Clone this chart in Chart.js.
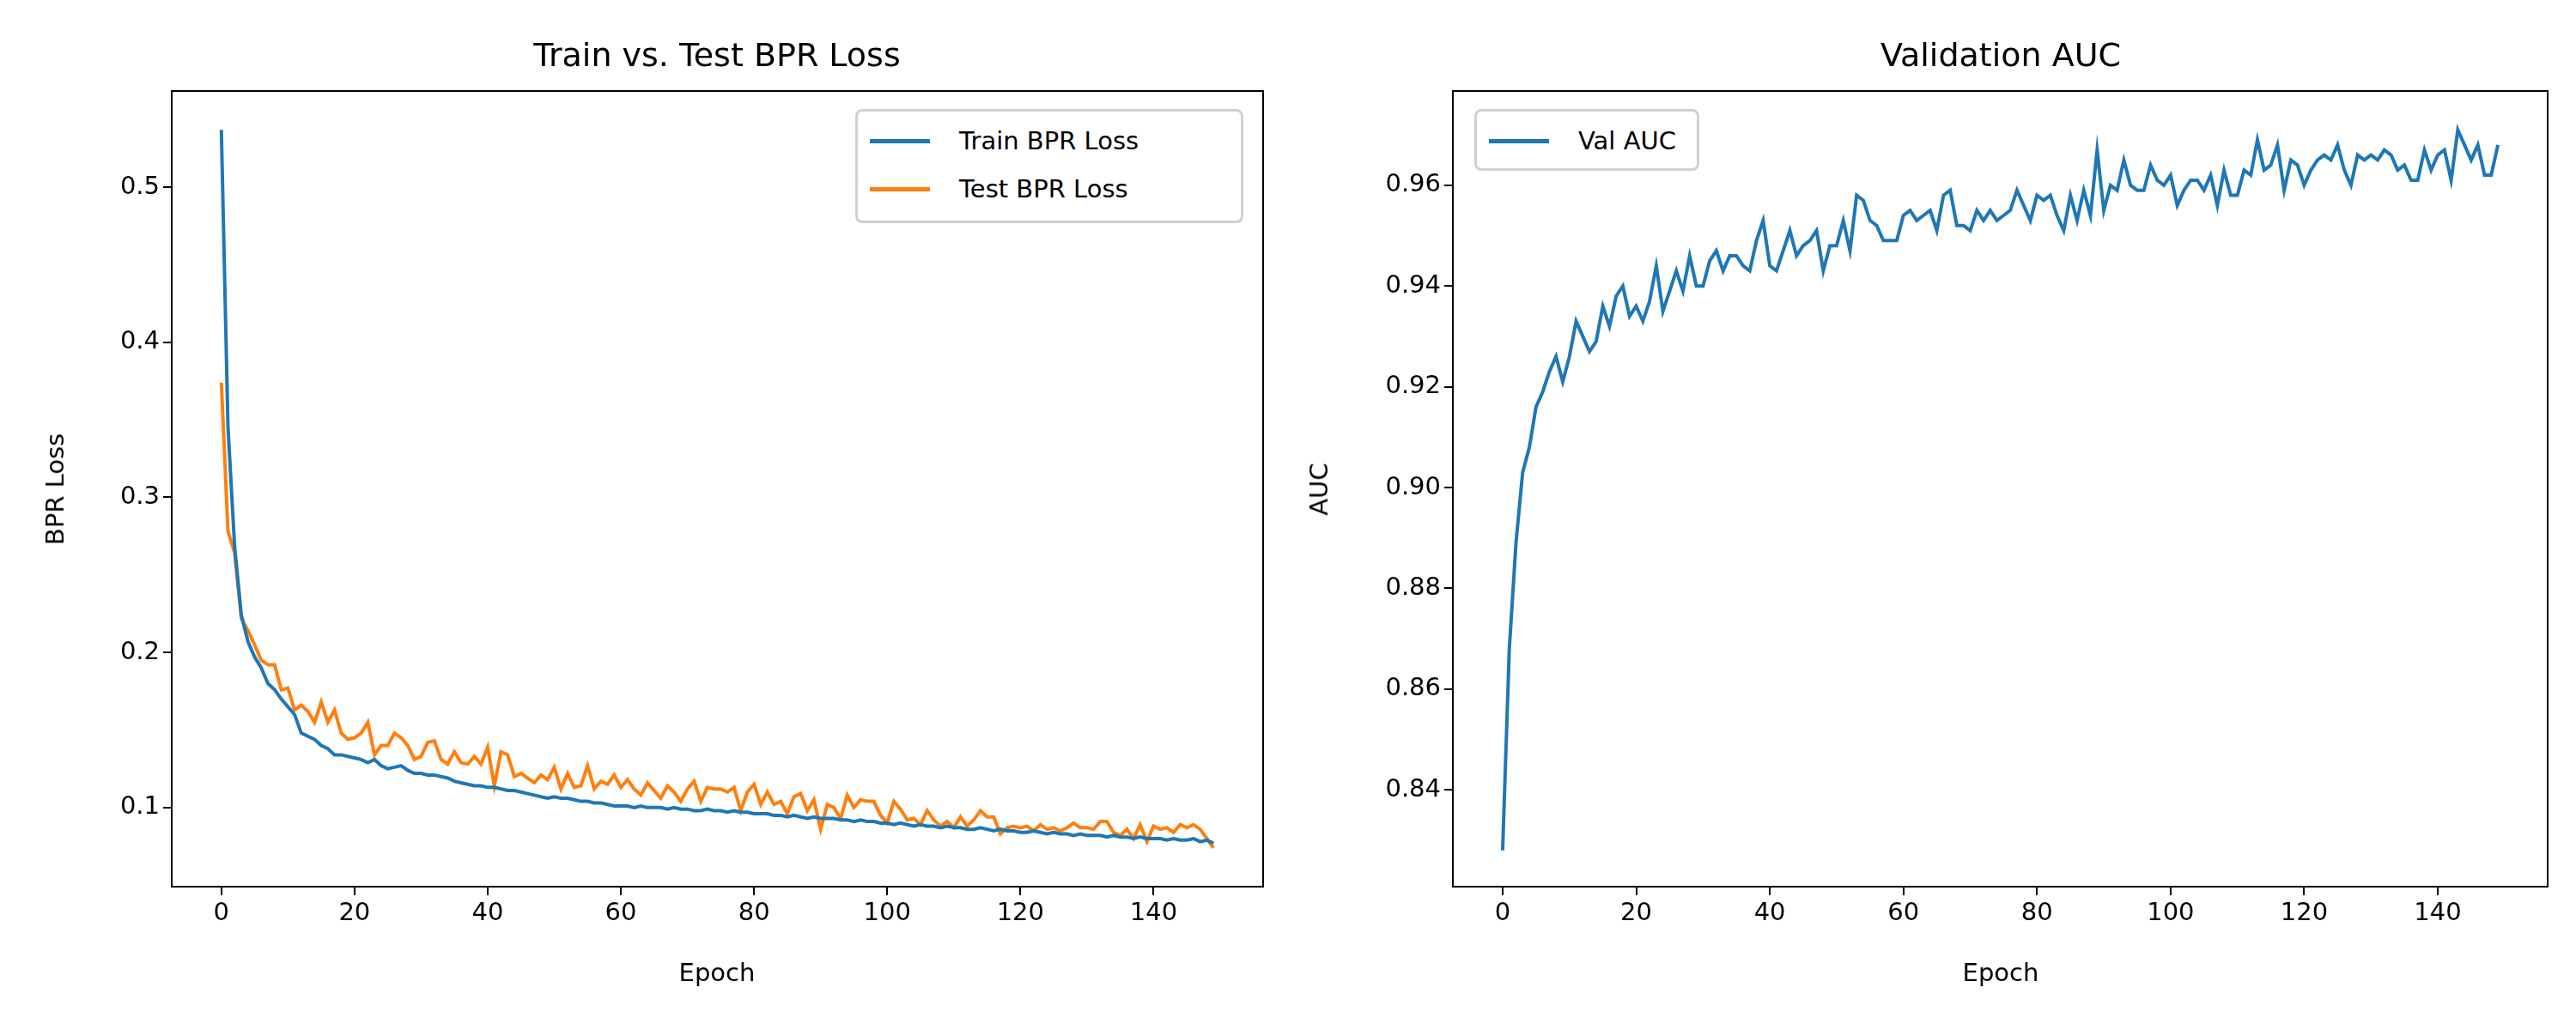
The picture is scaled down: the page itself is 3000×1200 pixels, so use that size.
<!DOCTYPE html>
<html>
<head>
<meta charset="utf-8">
<script src="https://cdn.jsdelivr.net/npm/chart.js@4"></script>
<style>
  body { margin: 0; background: #fff; font-family: "DejaVu Sans", sans-serif; }
  #wrap { position: relative; width: 3000px; height: 1200px; }
  .box { position: absolute; top: 0; height: 1200px; }
  .title { position: absolute; font-size: 38px; color: #000; transform: translate(-50%, -50%); top: 64px; white-space: nowrap; }
  .legend { position: absolute; background: #fff; border: 3px solid #d0d0d0; border-radius: 8px; padding: 6px 14px; font-size: 29px; box-sizing: border-box; }
  .legend div { display: flex; align-items: center; height: 56px; }
  .legend span.sw { display: inline-block; width: 70px; height: 5px; margin-right: 34px; }
  .lbl { position: absolute; font-size: 29px; color: #000; white-space: nowrap; }
</style>
</head>
<body>
<div id="wrap">
  <div class="box" style="left:0;width:1490px"><canvas id="loss"></canvas></div>
  <div class="box" style="left:1500px;width:1500px"><canvas id="auc"></canvas></div>
  <div class="title" style="left:835px">Train vs. Test BPR Loss</div>
  <div class="title" style="left:2330px">Validation AUC</div>
  <div class="legend" style="left:996px;top:127px;width:452px;height:133px">
    <div><span class="sw" style="background:#1f77b4"></span>Train BPR Loss</div>
    <div><span class="sw" style="background:#ff7f0e"></span>Test BPR Loss</div>
  </div>
  <div class="legend" style="left:1717px;top:127px;width:262px;height:72px">
    <div><span class="sw" style="background:#1f77b4"></span>Val AUC</div>
  </div>
  <div class="lbl" style="left:835px;top:1133px;transform:translate(-50%,-50%)">Epoch</div>
  <div class="lbl" style="left:2330px;top:1133px;transform:translate(-50%,-50%)">Epoch</div>
  <div class="lbl" style="left:64px;top:570px;transform:translate(-50%,-50%) rotate(-90deg)">BPR Loss</div>
  <div class="lbl" style="left:1536px;top:570px;transform:translate(-50%,-50%) rotate(-90deg)">AUC</div>
</div>
<script>
// ---- data ----
const trainLoss = [
  .537,.345,.268,.224,.207,.197,.190,.180,.176,.170,.165,.160,.148,.146,.144,.140,.138,.134,.134,.133,.132,
  .131,.129,.131,.127,.125,.126,.127,.124,.122,.122,.121,.121,.120,.119,.117,.116,.115,.114,.114,.113,
  .113,.112,.111,.111,.110,.109,.108,.107,.106,.107,.106,.106,.105,.104,.104,.103,.103,.102,.101,.101,
  .101,.100,.101,.100,.100,.100,.099,.100,.099,.099,.098,.098,.099,.098,.098,.097,.098,.097,.097,.096,
  .096,.096,.095,.095,.094,.095,.094,.093,.094,.093,.093,.093,.092,.092,.091,.092,.091,.091,.090,.090,
  .089,.090,.089,.088,.089,.088,.088,.087,.088,.087,.087,.086,.086,.087,.086,.085,.086,.085,.085,.084,
  .084,.085,.084,.083,.084,.083,.083,.082,.083,.082,.082,.082,.081,.082,.081,.081,.080,.081,.080,.080,
  .080,.079,.080,.079,.079,.080,.078,.079,.077
];
const testLoss = [
  .374,.278,.264,.222,.214,.205,.195,.192,.192,.176,.177,.163,.166,.162,.155,.168,.155,.163,.148,.144,.145,
  .148,.155,.134,.140,.140,.148,.145,.140,.131,.133,.142,.143,.131,.128,.136,.129,.128,.133,.128,.139,
  .114,.136,.134,.120,.122,.119,.116,.121,.118,.126,.112,.122,.113,.114,.127,.112,.117,.115,.121,.113,
  .118,.112,.108,.116,.111,.106,.114,.110,.104,.112,.117,.104,.113,.112,.112,.110,.113,.098,.110,.115,
  .102,.110,.102,.104,.096,.107,.109,.098,.105,.086,.102,.100,.093,.108,.100,.105,.104,.104,.095,.090,
  .104,.099,.092,.093,.089,.098,.092,.088,.091,.087,.094,.088,.092,.098,.094,.094,.083,.087,.088,.087,
  .088,.085,.089,.086,.087,.085,.087,.090,.087,.087,.086,.091,.091,.084,.082,.086,.080,.089,.078,.088,
  .086,.087,.084,.089,.087,.089,.086,.080,.074
];
const valAuc = [
  .828,.868,.889,.903,.908,.916,.919,.923,.926,.921,.926,.933,.930,.927,.929,.936,.932,.938,.940,.934,
  .936,.933,.937,.944,.935,.939,.943,.939,.946,.940,.940,.945,.947,.943,.946,.946,.944,.943,.949,.953,
  .944,.943,.947,.951,.946,.948,.949,.951,.943,.948,.948,.953,.947,.958,.957,.953,.952,.949,.949,.949,
  .954,.955,.953,.954,.955,.951,.958,.959,.952,.952,.951,.955,.953,.955,.953,.954,.955,.959,.956,.953,
  .958,.957,.958,.954,.951,.958,.953,.959,.954,.967,.955,.960,.959,.965,.960,.959,.959,.964,.961,.960,
  .962,.956,.959,.961,.961,.959,.962,.956,.963,.958,.958,.963,.962,.969,.963,.964,.968,.959,.965,.964,
  .960,.963,.965,.966,.965,.968,.963,.960,.966,.965,.966,.965,.967,.966,.963,.964,.961,.961,.967,.963,
  .966,.967,.961,.971,.968,.965,.968,.962,.962,.968
];
const xTicks = [0, 20, 40, 60, 80, 100, 120, 140];
const lossTicks = [0.1, 0.2, 0.3, 0.4, 0.5];
const aucTicks = [0.84, 0.86, 0.88, 0.90, 0.92, 0.94, 0.96];

const pts = arr => arr.map((v, i) => ({ x: i, y: v }));
const FONT = { family: 'DejaVu Sans', size: 29 };

// matplotlib style full frame
const framePlugin = {
  id: 'frame',
  afterDraw(chart) {
    const { ctx, chartArea: a } = chart;
    ctx.save();
    ctx.strokeStyle = '#000';
    ctx.lineWidth = 2;
    ctx.strokeRect(a.left, a.top, a.right - a.left, a.bottom - a.top);
    ctx.restore();
  }
};

function axis(min, max, ticks, fmt, extra) {
  return Object.assign({
    type: 'linear', min, max,
    afterBuildTicks: s => { s.ticks = ticks.map(v => ({ value: v })); },
    grid: { drawOnChartArea: false, color: '#000', tickLength: 10, lineWidth: 2 },
    border: { color: '#000', width: 2 },
    ticks: { color: '#000', font: FONT, padding: 4, callback: fmt, maxRotation: 0, autoSkip: false }
  }, extra);
}

function makeChart(id, datasets, yMin, yMax, yTicks, yFmt, yWidth, padRight) {
  return new Chart(document.getElementById(id), {
    type: 'line',
    data: { datasets },
    options: {
      responsive: false, animation: false, devicePixelRatio: 1,
      layout: { padding: { top: 106, right: padRight, left: 0, bottom: 0 } },
      plugins: { legend: { display: false }, tooltip: { enabled: false } },
      elements: { point: { radius: 0 }, line: { borderWidth: 4, tension: 0 } },
      scales: {
        x: axis(-7.45, 156.45, xTicks, v => String(v), { afterFit: s => { s.height = 167; } }),
        y: axis(yMin, yMax, yTicks, yFmt, { afterFit: s => { s.width = yWidth; } })
      }
    },
    plugins: [framePlugin]
  });
}

const c1 = document.getElementById('loss'); c1.width = 1490; c1.height = 1200;
const c2 = document.getElementById('auc'); c2.width = 1500; c2.height = 1200;

makeChart('loss', [
  { label: 'Train BPR Loss', data: pts(trainLoss), borderColor: '#1f77b4' },
  { label: 'Test BPR Loss', data: pts(testLoss), borderColor: '#ff7f0e' }
], 0.049, 0.562, lossTicks, v => v.toFixed(1), 200, 19);

makeChart('auc', [
  { label: 'Val AUC', data: pts(valAuc), borderColor: '#1f77b4' }
], 0.8208, 0.9787, aucTicks, v => v.toFixed(2), 192, 33);
</script>
</body>
</html>
